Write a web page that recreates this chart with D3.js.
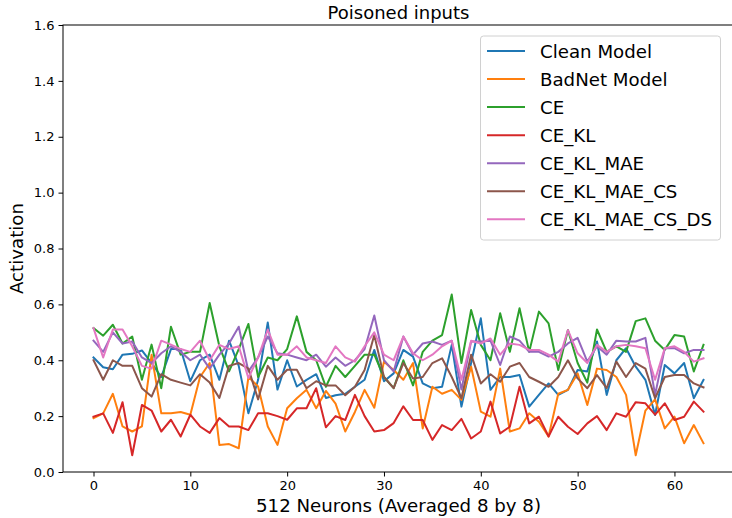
<!DOCTYPE html>
<html>
<head>
<meta charset="utf-8">
<script src="https://cdn.jsdelivr.net/npm/d3@7"></script>
<style>
  html, body { margin: 0; padding: 0; background: #fff; }
  svg { display: block; font-family: "DejaVu Sans", sans-serif; }
</style>
</head>
<body>
<svg id="chart" width="732" height="518"></svg>
<script>
const neurons = d3.range(64);
const seriesNames = ["Clean Model", "BadNet Model", "CE", "CE_KL", "CE_KL_MAE", "CE_KL_MAE_CS", "CE_KL_MAE_CS_DS"];
const seriesColors = ["#1f77b4", "#ff7f0e", "#2ca02c", "#d62728", "#9467bd", "#8c564b", "#e377c2"];
const xTicks = [0, 10, 20, 30, 40, 50, 60];
const yTicks = [0.0, 0.2, 0.4, 0.6, 0.8, 1.0, 1.2, 1.4, 1.6];

const cleanModel = [0.41,0.375,0.368,0.42,0.423,0.435,0.39,0.34,0.44,0.44,0.325,0.40,0.42,0.33,0.47,0.38,
  0.21,0.33,0.535,0.295,0.40,0.306,0.33,0.35,0.265,0.275,0.28,0.305,0.33,0.437,0.325,0.353,
  0.437,0.413,0.317,0.30,0.305,0.455,0.234,0.39,0.55,0.294,0.34,0.34,0.347,0.234,0.276,0.317,
  0.276,0.294,0.365,0.36,0.467,0.276,0.40,0.443,0.377,0.33,0.204,0.383,0.353,0.39,0.264,0.33];
const badnetModel = [0.193,0.21,0.28,0.163,0.145,0.163,0.42,0.21,0.21,0.215,0.205,0.34,0.39,0.097,0.10,0.085,
  0.34,0.306,0.163,0.097,0.228,0.264,0.294,0.228,0.29,0.245,0.145,0.215,0.294,0.23,0.395,0.365,
  0.33,0.39,0.156,0.305,0.28,0.294,0.258,0.377,0.216,0.198,0.37,0.145,0.156,0.21,0.18,0.127,
  0.28,0.294,0.353,0.24,0.37,0.365,0.34,0.276,0.06,0.22,0.26,0.156,0.198,0.103,0.168,0.103];
const ce = [0.515,0.488,0.527,0.46,0.485,0.33,0.456,0.30,0.52,0.42,0.43,0.43,0.605,0.45,0.36,0.44,
  0.53,0.34,0.41,0.40,0.44,0.557,0.43,0.40,0.305,0.38,0.34,0.38,0.42,0.42,0.34,0.30,
  0.40,0.31,0.43,0.47,0.49,0.635,0.39,0.58,0.455,0.40,0.568,0.43,0.586,0.43,0.574,0.532,
  0.365,0.508,0.39,0.32,0.51,0.43,0.45,0.43,0.54,0.55,0.47,0.437,0.49,0.485,0.36,0.455];
const ceKL = [0.198,0.21,0.14,0.25,0.06,0.24,0.22,0.145,0.187,0.127,0.205,0.163,0.14,0.193,0.163,0.163,
  0.15,0.21,0.21,0.20,0.187,0.228,0.228,0.30,0.16,0.20,0.186,0.276,0.20,0.145,0.15,0.175,
  0.235,0.186,0.186,0.115,0.168,0.15,0.19,0.12,0.145,0.252,0.138,0.162,0.305,0.174,0.198,0.127,
  0.198,0.162,0.136,0.174,0.20,0.15,0.21,0.198,0.25,0.246,0.205,0.246,0.186,0.198,0.252,0.216];
const ceKLMAE = [0.47,0.43,0.50,0.46,0.467,0.41,0.39,0.425,0.45,0.43,0.40,0.42,0.37,0.42,0.46,0.52,
  0.36,0.41,0.485,0.425,0.42,0.41,0.40,0.42,0.377,0.41,0.38,0.40,0.44,0.56,0.40,0.36,
  0.485,0.42,0.46,0.467,0.455,0.47,0.295,0.467,0.467,0.47,0.383,0.485,0.47,0.43,0.43,0.413,
  0.43,0.46,0.48,0.395,0.45,0.42,0.47,0.467,0.467,0.48,0.276,0.443,0.443,0.425,0.437,0.437];
const ceKLMAECS = [0.40,0.33,0.40,0.38,0.38,0.30,0.27,0.35,0.33,0.32,0.31,0.35,0.32,0.265,0.38,0.39,
  0.37,0.26,0.38,0.33,0.366,0.366,0.30,0.325,0.31,0.31,0.275,0.305,0.365,0.49,0.34,0.30,
  0.39,0.335,0.34,0.39,0.407,0.34,0.264,0.42,0.317,0.35,0.323,0.377,0.39,0.34,0.323,0.305,
  0.34,0.40,0.335,0.30,0.347,0.30,0.395,0.34,0.39,0.37,0.264,0.34,0.347,0.347,0.317,0.303];
const ceKLMAECSDS = [0.515,0.41,0.51,0.51,0.45,0.38,0.37,0.47,0.456,0.44,0.43,0.47,0.40,0.455,0.44,0.45,
  0.336,0.41,0.51,0.42,0.42,0.45,0.41,0.40,0.39,0.45,0.41,0.395,0.45,0.50,0.42,0.40,
  0.485,0.425,0.40,0.42,0.45,0.47,0.33,0.47,0.46,0.478,0.42,0.46,0.455,0.437,0.437,0.42,
  0.395,0.508,0.425,0.39,0.455,0.43,0.45,0.455,0.45,0.443,0.33,0.443,0.45,0.43,0.395,0.407];

const seriesValues = [cleanModel, badnetModel, ce, ceKL, ceKLMAE, ceKLMAECS, ceKLMAECSDS];

const svg = d3.select("#chart");
const L = 63, R = 734, T = 25, B = 472;
const x = d3.scaleLinear().domain([-3.15, 66.15]).range([L, R]);
const y = d3.scaleLinear().domain([0, 1.6]).range([B, T]);

// lines
const line = d3.line().x((d, i) => x(neurons[i])).y(d => y(d));
const plot = svg.append("g");
seriesValues.forEach((vals, k) => {
  plot.append("path")
    .datum(vals)
    .attr("fill", "none")
    .attr("stroke", seriesColors[k])
    .attr("stroke-width", 2)
    .attr("stroke-linejoin", "round")
    .attr("stroke-linecap", "square")
    .attr("d", line);
});

// axes
const xAxis = d3.axisBottom(x).tickValues(xTicks).tickSize(4.5).tickPadding(4).tickFormat(d3.format("d"));
const yAxis = d3.axisLeft(y).tickValues(yTicks).tickSize(4.5).tickPadding(4).tickFormat(d3.format(".1f"));
const gx = svg.append("g").attr("transform", `translate(0,${B})`).call(xAxis);
const gy = svg.append("g").attr("transform", `translate(${L},0)`).call(yAxis);
[gx, gy].forEach(g => {
  g.select(".domain").remove();
  g.selectAll("text").attr("font-family", "DejaVu Sans").attr("font-size", 13).attr("fill", "#000");
  g.selectAll("line").attr("stroke", "#000").attr("stroke-width", 1);
});

// frame
svg.append("rect").attr("x", L).attr("y", T).attr("width", R - L).attr("height", B - T)
  .attr("fill", "none").attr("stroke", "#000").attr("stroke-width", 1);

// title & labels
svg.append("text").attr("x", (L + R) / 2).attr("y", 18.5).attr("text-anchor", "middle")
  .attr("font-size", 18).text("Poisoned inputs");
svg.append("text").attr("x", (L + R) / 2).attr("y", 512).attr("text-anchor", "middle")
  .attr("font-size", 18.2).text("512 Neurons (Averaged 8 by 8)");
svg.append("text").attr("transform", `translate(23,${(T + B) / 2}) rotate(-90)`).attr("text-anchor", "middle")
  .attr("font-size", 18.2).text("Activation");

// legend
const lg = svg.append("g");
lg.append("rect").attr("x", 480.5).attr("y", 36).attr("width", 240).attr("height", 204)
  .attr("rx", 3).attr("fill", "#fff").attr("fill-opacity", 0.8).attr("stroke", "#d0d0d0").attr("stroke-width", 1);
seriesNames.forEach((name, k) => {
  const yy = 51 + k * 28.05;
  lg.append("line").attr("x1", 487).attr("x2", 525).attr("y1", yy).attr("y2", yy)
    .attr("stroke", seriesColors[k]).attr("stroke-width", 2);
  lg.append("text").attr("x", 540).attr("y", yy).attr("dy", "0.36em")
    .attr("font-size", 18.2).attr("fill", "#000").text(name);
});
</script>
</body>
</html>
